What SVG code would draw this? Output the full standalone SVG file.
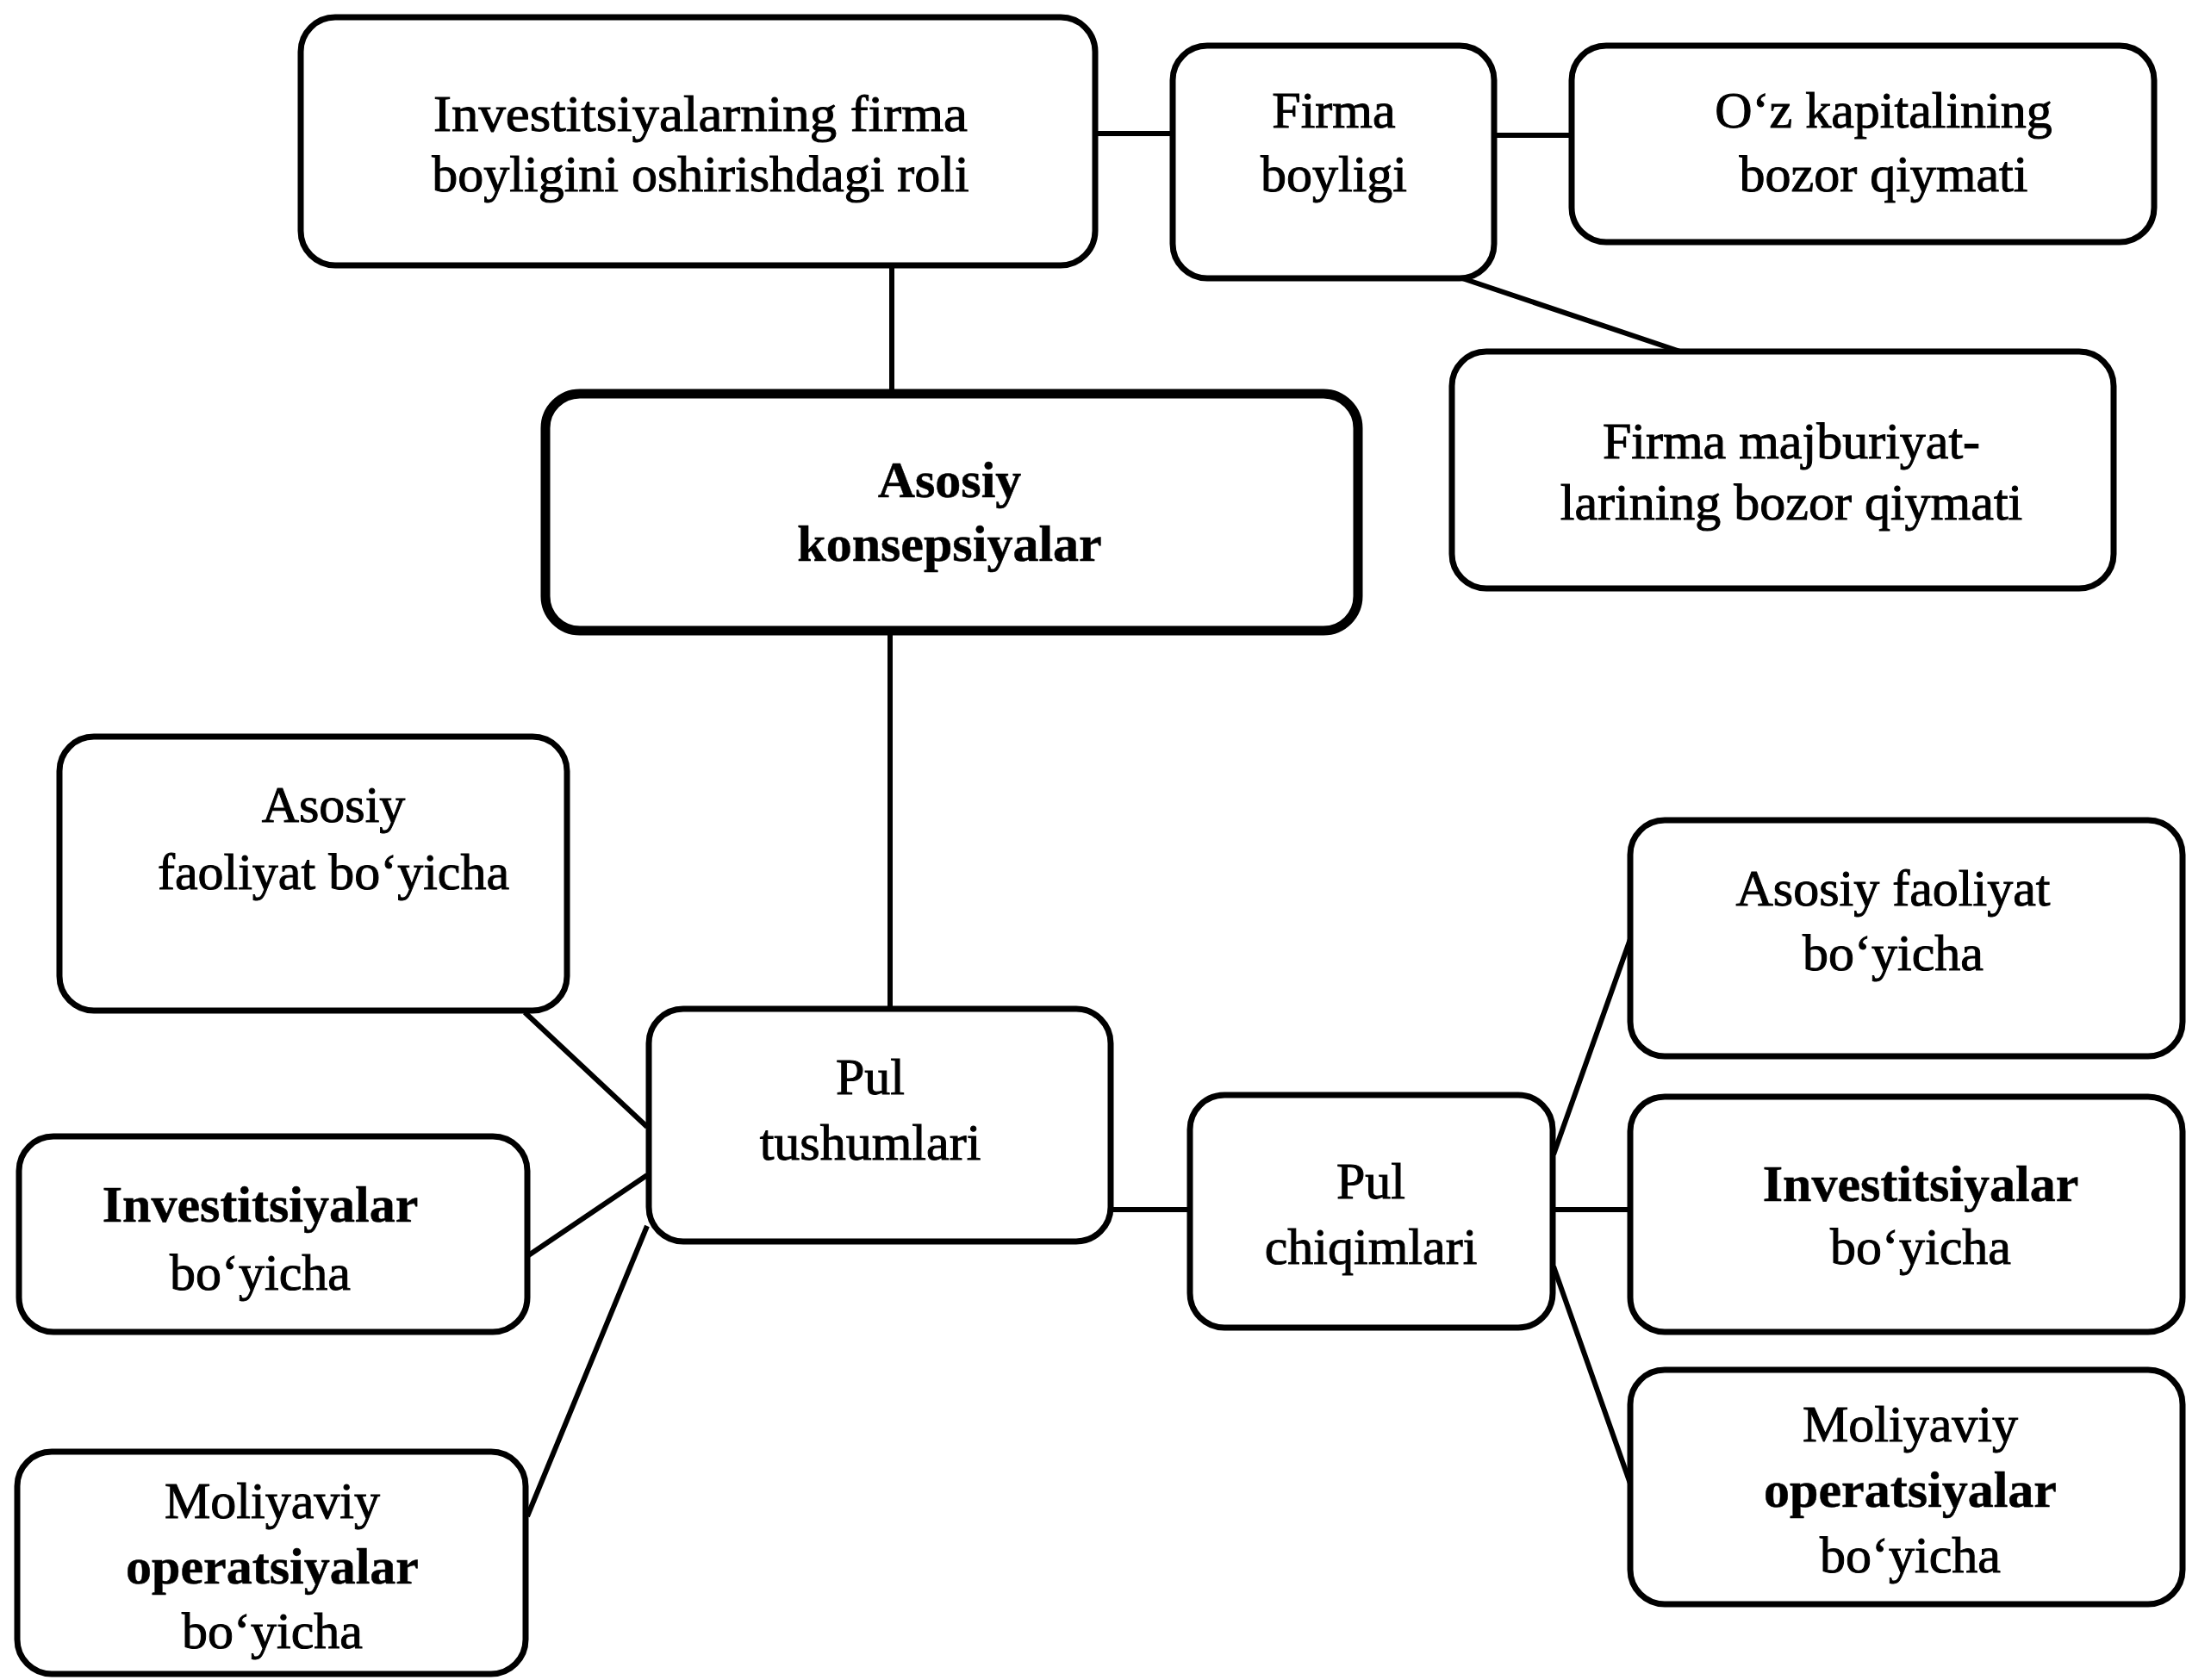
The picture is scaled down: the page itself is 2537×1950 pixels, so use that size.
<svg xmlns="http://www.w3.org/2000/svg" width="2537" height="1950" viewBox="0 0 2537 1950">
<style>
.box{fill:#fff;stroke:#000;stroke-width:7}
.thick{stroke-width:11}
.t{font-family:"Liberation Serif","Times New Roman",serif;font-size:60px;fill:#000;stroke:#000;stroke-width:1;text-anchor:middle}
.b{font-weight:bold;stroke-width:0.5}
.c{stroke:#000;stroke-width:6;fill:none}
</style>
<rect width="2537" height="1950" fill="#fff"/>
<g id="connectors">
<line class="c" x1="1271" y1="155" x2="1361" y2="155"/>
<line class="c" x1="1734" y1="157" x2="1824" y2="157"/>
<line class="c" x1="1697" y1="323" x2="1950" y2="408"/>
<line class="c" x1="1035" y1="308" x2="1035" y2="457"/>
<line class="c" x1="1033" y1="732" x2="1033" y2="1171"/>
<line class="c" x1="609" y1="1175" x2="751" y2="1308"/>
<line class="c" x1="612" y1="1458" x2="751" y2="1364"/>
<line class="c" x1="751" y1="1423" x2="612" y2="1760"/>
<line class="c" x1="1289" y1="1404" x2="1381" y2="1404"/>
<line class="c" x1="1803" y1="1340" x2="1892" y2="1090"/>
<line class="c" x1="1803" y1="1404" x2="1892" y2="1404"/>
<line class="c" x1="1803" y1="1470" x2="1892" y2="1722"/>
</g>
<g id="n1"><rect class="box" x="349" y="20" width="922" height="288" rx="40"/>
<text class="t" x="813" y="152" textLength="620" lengthAdjust="spacingAndGlyphs">Investitsiyalarning firma</text>
<text class="t" x="813" y="222">boyligini oshirishdagi roli</text></g>
<g id="n2"><rect class="box" x="1361" y="53" width="373" height="270" rx="40"/>
<text class="t" x="1548" y="148">Firma</text>
<text class="t" x="1548" y="222">boyligi</text></g>
<g id="n3"><rect class="box" x="1824" y="53" width="676" height="228" rx="40"/>
<text class="t" x="2186" y="148">O‘z kapitalining</text>
<text class="t" x="2186" y="222">bozor qiymati</text></g>
<g id="n4"><rect class="box" x="1685" y="408" width="768" height="275" rx="40"/>
<text class="t" x="2079" y="532">Firma majburiyat-</text>
<text class="t" x="2079" y="603">larining bozor qiymati</text></g>
<g id="n5"><rect class="box thick" x="633" y="457" width="943" height="275" rx="40"/>
<text class="t b" x="1102" y="577">Asosiy</text>
<text class="t b" x="1102" y="651">konsepsiyalar</text></g>
<g id="n6"><rect class="box" x="69" y="855" width="589" height="318" rx="40"/>
<text class="t" x="387" y="954">Asosiy</text>
<text class="t" x="387" y="1032">faoliyat bo‘yicha</text></g>
<g id="n7"><rect class="box" x="22" y="1319" width="590" height="227" rx="40"/>
<text class="t b" x="302" y="1418">Investitsiyalar</text>
<text class="t" x="302" y="1497">bo‘yicha</text></g>
<g id="n8"><rect class="box" x="20" y="1685" width="590" height="258" rx="40"/>
<text class="t" x="316" y="1762">Moliyaviy</text>
<text class="t b" x="316" y="1838">operatsiyalar</text>
<text class="t" x="316" y="1913">bo‘yicha</text></g>
<g id="n9"><rect class="box" x="753" y="1171" width="536" height="270" rx="40"/>
<text class="t" x="1010" y="1270">Pul</text>
<text class="t" x="1010" y="1346">tushumlari</text></g>
<g id="n10"><rect class="box" x="1381" y="1271" width="421" height="270" rx="40"/>
<text class="t" x="1591" y="1391">Pul</text>
<text class="t" x="1591" y="1467">chiqimlari</text></g>
<g id="n11"><rect class="box" x="1892" y="952" width="641" height="274" rx="40"/>
<text class="t" x="2197" y="1051">Asosiy faoliyat</text>
<text class="t" x="2197" y="1126">bo‘yicha</text></g>
<g id="n12"><rect class="box" x="1892" y="1273" width="641" height="273" rx="40"/>
<text class="t b" x="2229" y="1394">Investitsiyalar</text>
<text class="t" x="2229" y="1467">bo‘yicha</text></g>
<g id="n13"><rect class="box" x="1892" y="1590" width="641" height="272" rx="40"/>
<text class="t" x="2217" y="1673">Moliyaviy</text>
<text class="t b" x="2217" y="1749">operatsiyalar</text>
<text class="t" x="2217" y="1825">bo‘yicha</text></g>
</svg>
